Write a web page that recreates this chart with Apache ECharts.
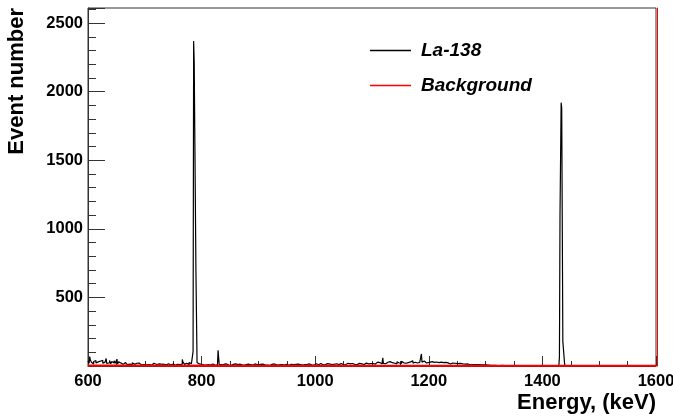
<!DOCTYPE html>
<html>
<head>
<meta charset="utf-8">
<script src="https://cdn.jsdelivr.net/npm/echarts@6/dist/echarts.min.js"></script>
<style>html,body{margin:0;padding:0;background:#fff}#c{width:673px;height:418px}</style>
</head>
<body>
<div id="c"></div>
<script>
// X range (keV) and tick labels
var xTicks = [600, 800, 1000, 1200, 1400, 1600];
var yTicks = [500, 1000, 1500, 2000, 2500];
var seriesNames = ['La-138', 'Background'];

// La-138 continuum, 2 keV bins from 600 to 1350 keV
var la138Fine = [
  // 600-660
  38, 20, 45, 28, 15, 33, 40, 22, 30, 18, 35, 25, 42, 20, 28, 36, 18, 30, 24, 40,
  16, 32, 22, 38, 20, 27, 14, 30, 22, 18,
  // 660-700
  20, 12, 25, 15, 10, 22, 14, 18, 9, 24, 12, 16, 20, 10, 15, 22, 8, 18, 13, 11,
  // 700-784
  14, 8, 18, 10, 15, 6, 12, 20, 9, 14, 11, 7, 16, 10, 13, 5, 12, 18, 8, 14,
  10, 16, 7, 12, 9, 15, 11, 6, 13, 17, 10, 22, 14, 30, 18, 12, 20, 15, 10, 25,
  16, 22,
  // 784-800
  20, 20, 20, 20, 20, 15, 18, 12,
  // 800-900
  14, 8, 12, 6, 16, 10, 9, 13, 7, 15, 11, 5, 14, 18, 9, 12, 16, 8, 11, 6,
  13, 9, 15, 7, 10, 14, 5, 12, 9, 16, 8, 11, 6, 13, 10, 15, 7, 12, 9, 5,
  14, 8, 11, 13, 6, 10, 15, 7, 12, 9,
  // 900-1000
  8, 12, 5, 10, 14, 7, 11, 6, 13, 9, 4, 12, 8, 15, 6, 10, 7, 13, 9, 5,
  11, 14, 6, 10, 8, 12, 5, 9, 13, 7, 10, 6, 12, 8, 14, 5, 11, 9, 7, 13,
  10, 6, 12, 8, 15, 9, 7, 11, 6, 10,
  // 1000-1100
  12, 16, 9, 14, 11, 18, 8, 13, 15, 10, 17, 12, 9, 14, 19, 11, 13, 8, 16, 12,
  15, 10, 18, 13, 9, 14, 17, 11, 20, 12, 15, 9, 13, 18, 11, 16, 14, 10, 19, 13,
  15, 12, 17, 11, 21, 14, 16, 12, 18, 15,
  // 1100-1250
  18, 24, 14, 22, 28, 16, 20, 25, 15, 30, 19, 23, 17, 27, 21, 32, 18, 24, 29, 20,
  26, 16, 31, 22, 27, 19, 35, 23, 28, 20, 33, 25, 18, 30, 24, 38, 21, 27, 32, 22,
  29, 26, 34, 20, 28, 24, 36, 22, 30, 25, 27, 19, 32, 23, 26, 21, 29, 18, 25, 22,
  28, 17, 24, 20, 26, 16, 23, 19, 22, 15, 21, 18, 20, 14, 19,
  // 1250-1350
  17, 13, 19, 15, 12, 16, 11, 14, 10, 15, 12, 9, 13, 11, 8, 12, 10, 7, 11, 9,
  8, 10, 6, 9, 7, 8, 5, 7, 6, 4, 6, 5, 3, 5, 4, 3, 4, 2, 3, 4,
  2, 3, 1, 2, 3, 1, 2, 1, 2, 1
];
// La-138 tail, 10 keV bins from 1350 to 1600 keV
var la138Tail = [1, 2, 1, 1, 0, 1, 1, 1, 0, 1, 1, 0, 1, 0, 0, 1, 0, 0, 1, 0, 0, 1, 0, 0, 1];
// La-138 peaks and spikes, 1 keV bins: [energy, count]
var la138Peaks = [
  [603, 68], [632, 55], [651, 50], [766, 48],
  [785, 105], [786, 2370], [787, 2210], [788, 2210], [789, 2210], [790, 700], [791, 700], [792, 25],
  [829, 115], [830, 110], [1119, 60], [1187, 88],
  [1430, 70], [1431, 1100], [1432, 1100], [1433, 1920], [1434, 1880], [1435, 1880],
  [1436, 178], [1437, 178], [1438, 170], [1439, 20]
];
// Background, 50 keV bins from 600 keV
var bgCont = [3, 3, 2, 3, 2, 2, 2, 2, 2, 2, 2, 2, 2, 1, 1, 1, 1, 1, 1, 1];

function buildLa() {
  var map = {};
  la138Peaks.forEach(function (p) { map[p[0]] = p[1]; });
  var pts = [], last = 0;
  for (var e = 600; e < 1600; e++) {
    var v = e < 1350 ? la138Fine[Math.floor((e - 600) / 2)] : la138Tail[Math.floor((e - 1350) / 10)];
    if (v === undefined) v = 0;
    if (map[e] !== undefined) v = map[e];
    pts.push([e, v]);
    last = v;
  }
  pts.push([1600, last]);
  return pts;
}

var laData = buildLa();
var bgData = [];
for (var i = 0; i < bgCont.length; i++) bgData.push([600 + i * 50, bgCont[i]]);
bgData.push([1600, bgCont[bgCont.length - 1]]);

var FONT = '"Liberation Sans", Arial, Helvetica, sans-serif';
var axisCol = '#333';

var chart = echarts.init(document.getElementById('c'), null, {renderer: 'canvas'});
chart.setOption({
  animation: false,
  backgroundColor: '#fff',
  grid: {left: 88, right: 17, top: 8, bottom: 52, show: true, borderColor: axisCol, borderWidth: 1,
    backgroundColor: 'transparent', containLabel: false, outerBoundsMode: 'none'},
  legend: {
    data: [{name: seriesNames[0], icon: 'rect'}, {name: seriesNames[1], icon: 'rect'}],
    orient: 'vertical', left: 370, top: 41, padding: 0,
    itemWidth: 41, itemHeight: 1.5, itemGap: 16,
    textStyle: {fontFamily: FONT, fontSize: 19, lineHeight: 19, fontWeight: 'bold', fontStyle: 'italic', color: '#000', padding: [0, 0, 0, 5]}
  },
  xAxis: {
    type: 'value', min: xTicks[0], max: xTicks[xTicks.length - 1], interval: 200,
    axisLine: {show: true, lineStyle: {color: axisCol}},
    axisTick: {show: true, inside: true, length: 10, lineStyle: {color: axisCol}},
    minorTick: {show: true, splitNumber: 4, length: 5, lineStyle: {color: axisCol}},
    splitLine: {show: false},
    axisLabel: {fontFamily: FONT, fontSize: 16.5, fontWeight: 'bold', color: '#000', margin: 7,
      formatter: function (v) { return xTicks.indexOf(v) >= 0 ? String(v) : ''; }}
  },
  yAxis: [{
    type: 'value', min: 0, max: 2610, interval: 500,
    axisLine: {show: true, lineStyle: {color: axisCol}},
    axisTick: {show: true, inside: true, length: 17, lineStyle: {color: axisCol}},
    minorTick: {show: true, splitNumber: 5, length: 8, lineStyle: {color: axisCol}},
    splitLine: {show: false},
    axisLabel: {fontFamily: FONT, fontSize: 16.5, fontWeight: 'bold', color: '#000', margin: 5,
      formatter: function (v) { return yTicks.indexOf(v) >= 0 ? String(v) : ''; }}
  }, {
    type: 'value', min: 0, max: 2610, position: 'right', offset: 1,
    axisLine: {show: true, lineStyle: {color: '#ff0000', width: 1}},
    axisTick: {show: false}, axisLabel: {show: false}, splitLine: {show: false}
  }],
  graphic: [
    {type: 'text', x: 17, y: 8, rotation: Math.PI / 2,
      style: {text: 'Event number', fontFamily: FONT, fontSize: 22, fontWeight: 'bold', fill: '#000', align: 'right', verticalAlign: 'middle'}},
    {type: 'text', x: 656, y: 403,
      style: {text: 'Energy, (keV)', fontFamily: FONT, fontSize: 22, fontWeight: 'bold', fill: '#000', align: 'right', verticalAlign: 'middle'}}
  ],
  series: [{
    name: seriesNames[0], type: 'line', step: 'end', data: laData,
    showSymbol: false, symbol: 'none', sampling: null,
    lineStyle: {color: '#000', width: 1.2}, itemStyle: {color: '#000'}, z: 2
  }, {
    name: seriesNames[1], type: 'line', step: 'end', data: bgData,
    showSymbol: false, symbol: 'none',
    lineStyle: {color: '#ff0000', width: 2}, itemStyle: {color: '#ff0000'}, z: 3
  }]
});
</script>
</body>
</html>
